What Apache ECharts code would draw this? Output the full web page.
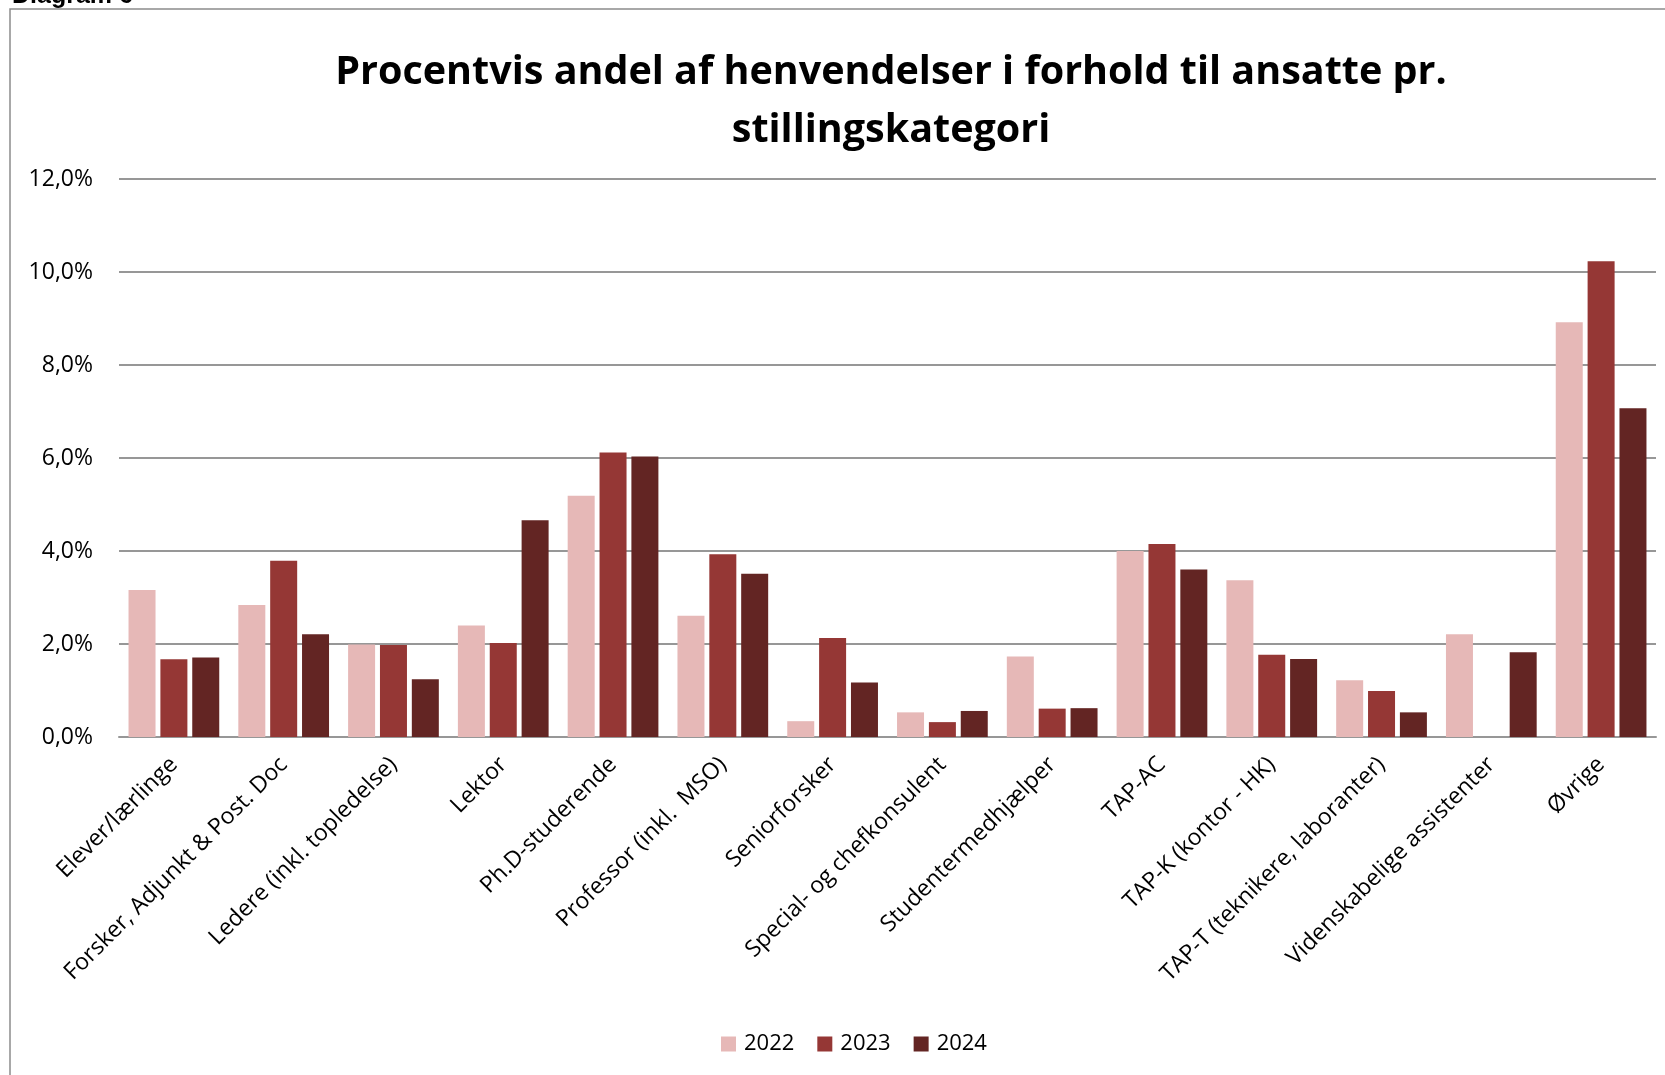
<!DOCTYPE html>
<html>
<head>
<meta charset="utf-8">
<script src="https://cdn.jsdelivr.net/npm/echarts@6/dist/echarts.min.js"></script>
<style>
html,body{margin:0;padding:0;background:#fff;}
#chart{width:1665px;height:1075px;}
</style>
</head>
<body>
<div id="chart"></div>
<script>
const categories = [
  'Elever/lærlinge',
  'Forsker, Adjunkt & Post. Doc',
  'Ledere (inkl. topledelse)',
  'Lektor',
  'Ph.D-studerende',
  'Professor (inkl.  MSO)',
  'Seniorforsker',
  'Special- og chefkonsulent',
  'Studentermedhjælper',
  'TAP-AC',
  'TAP-K (kontor - HK)',
  'TAP-T (teknikere, laboranter)',
  'Videnskabelige assistenter',
  'Øvrige'
];
const seriesNames = ['2022', '2023', '2024'];
const values2022 = [3.16, 2.84, 1.99, 2.40, 5.19, 2.61, 0.34, 0.53, 1.73, 4.00, 3.37, 1.22, 2.21, 8.92];
const values2023 = [1.67, 3.79, 1.98, 2.02, 6.12, 3.93, 2.13, 0.32, 0.61, 4.15, 1.77, 0.99, null, 10.23];
const values2024 = [1.71, 2.21, 1.24, 4.66, 6.03, 3.51, 1.17, 0.56, 0.62, 3.60, 1.68, 0.53, 1.82, 7.07];
const yTicks = { min: 0, max: 12, interval: 2 };
const titleText = 'Procentvis andel af henvendelser i forhold til ansatte pr.\nstillingskategori';
const captionText = 'Diagram 6';

const colors = ['#E6B8B7', '#953735', '#632523'];
const labelFont = '"Open Sans", "DejaVu Sans", sans-serif';

const chart = echarts.init(document.getElementById('chart'), null, { renderer: 'canvas' });

const dataSets = [values2022, values2023, values2024];
const series = seriesNames.map((name, i) => ({
  name: name,
  type: 'bar',
  data: dataSets[i],
  barWidth: 27,
  barGap: '18%',
  itemStyle: { color: colors[i] },
  emphasis: { disabled: true }
}));

chart.setOption({
  animation: false,
  backgroundColor: '#ffffff',
  color: colors,
  title: {
    text: titleText,
    left: 886,
    top: 39,
    textAlign: 'center',
    textStyle: {
      fontFamily: labelFont,
      fontWeight: 'bold',
      fontSize: 39.5,
      lineHeight: 58,
      color: '#000'
    }
  },
  graphic: [
    {
      type: 'rect',
      silent: true,
      shape: { x: 10, y: 9, width: 1700, height: 1100 },
      style: { fill: null, stroke: '#8c8c8c', lineWidth: 1.5 }
    },
    {
      type: 'text',
      silent: true,
      x: 12,
      y: 9,
      style: {
        text: captionText,
        fontFamily: '"Liberation Sans", Arial, sans-serif',
        fontWeight: 'bold',
        fontSize: 25,
        fill: '#000',
        verticalAlign: 'bottom',
        align: 'left'
      }
    }
  ],
  legend: {
    data: seriesNames,
    left: 716,
    top: 1028,
    itemWidth: 15,
    itemHeight: 15,
    itemGap: 23,
    icon: 'rect',
    textStyle: {
      fontFamily: labelFont,
      fontSize: 22,
      color: '#000',
      padding: [0, 0, 0, 3]
    }
  },
  grid: {
    left: 119,
    right: 9,
    top: 179,
    bottom: 338,
    containLabel: false
  },
  xAxis: {
    type: 'category',
    data: categories,
    axisLine: { show: true, lineStyle: { color: '#979797', width: 2 } },
    axisTick: { show: false },
    axisLabel: {
      rotate: 45,
      margin: 24,
      interval: 0,
      fontFamily: labelFont,
      fontSize: 23,
      color: '#000'
    }
  },
  yAxis: {
    type: 'value',
    min: yTicks.min,
    max: yTicks.max,
    interval: yTicks.interval,
    axisLine: { show: false },
    axisTick: { show: false },
    splitLine: { show: true, lineStyle: { color: '#979797', width: 2 } },
    axisLabel: {
      margin: 26,
      fontFamily: labelFont,
      fontSize: 23,
      color: '#000',
      formatter: v => v.toFixed(1).replace('.', ',') + '%'
    }
  },
  series: series
});
</script>
</body>
</html>
